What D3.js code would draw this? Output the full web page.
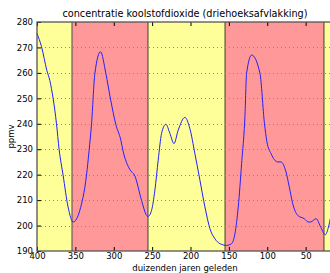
<!DOCTYPE html>
<html>
<head>
<meta charset="utf-8">
<script src="https://cdn.jsdelivr.net/npm/d3@7"></script>
<style>
body { margin: 0; background: #fff; overflow: hidden; }
text { font-family: "DejaVu Sans", sans-serif; fill: #000; }
</style>
</head>
<body>
<div id="chart"></div>
<script>
// duizenden jaren geleden (kyr) and CO2 (ppmv)
var kyr = [400, 394.1, 387.2, 383.3, 379.0, 374.6, 371.2, 366.0, 359.5, 352.9,
    344.2, 335.5, 332.1, 329.0, 324.6, 317.2, 310.3, 304.2, 297.3, 290.7,
    288.1, 279.0, 272.5, 263.8, 257.2, 255.2, 250.7, 246.4, 242.1, 237.7,
    232.1, 226.8, 221.6, 216.0, 207.3, 200.8, 194.3, 187.7, 181.2, 174.7,
    168.2, 161.7, 152.9, 146.4, 142.1, 137.8, 133.4, 129.1, 126.9, 120.3,
    109.5, 103.6, 100.5, 95.1, 86.4, 82.1, 75.6, 71.3, 66.8, 60.3,
    51.8, 46.5, 43.6, 36.3, 30.8, 24.3, 20.8, 17.0];
var ppmv = [275.5, 270.3, 261, 257, 250, 240, 230, 219.8, 207.3, 201.4,
    206, 219.8, 229.6, 239.7, 259.8, 268.3, 259.8, 249.7, 239.7, 233.5,
    229.6, 222, 219.5, 209.9, 204, 203.6, 206, 213.9, 225.7, 236.2,
    239.8, 236.2, 232.2, 237.5, 242.5, 238.1, 228.3, 217.8, 207.3, 198.8,
    194.8, 192.9, 192.2, 192.9, 196.8, 207.3, 224.4, 242.8, 259.8, 267,
    259.8, 240, 233, 228.3, 225, 225, 221.1, 215.2, 208.6, 204,
    202.7, 201.4, 201.4, 202.7, 199.7, 196.4, 198.8, 204];

// warm / cold periods
var bandFrom = [400, 354, 255, 155, 26];
var bandTo = [354, 255, 155, 26, 0];
var bandColor = ["#ffff99", "#ff9999", "#ffff99", "#ff9999", "#ffff99"];

var xTicks = [400, 350, 300, 250, 200, 150, 100, 50];
var yTicks = [190, 200, 210, 220, 230, 240, 250, 260, 270, 280];

var chartW = 330, chartH = 273;
var plotL = 37, plotR = 344, plotT = 22, plotB = 251;

var svg = d3.select("#chart").append("svg")
    .attr("width", chartW)
    .attr("height", chartH);

var x = d3.scaleLinear().domain([400, 0]).range([plotL, plotR]);
var y = d3.scaleLinear().domain([190, 280]).range([plotB, plotT]);

// background bands
svg.append("g").selectAll("rect")
    .data(bandFrom)
    .enter().append("rect")
    .attr("x", function (d) { return x(d); })
    .attr("y", plotT)
    .attr("width", function (d, i) { return x(bandTo[i]) - x(d); })
    .attr("height", plotB - plotT)
    .style("fill", function (d, i) { return bandColor[i]; });

// band edges
svg.append("g").selectAll("line")
    .data(bandFrom.slice(1))
    .enter().append("line")
    .attr("x1", function (d) { return Math.round(x(d)); })
    .attr("x2", function (d) { return Math.round(x(d)); })
    .attr("y1", plotT)
    .attr("y2", plotB)
    .style("stroke", "#000")
    .style("stroke-opacity", 0.6)
    .style("stroke-width", 1.2);

// horizontal grid
svg.append("g").selectAll("line")
    .data(yTicks.slice(1, -1))
    .enter().append("line")
    .attr("x1", plotL)
    .attr("x2", plotR)
    .attr("y1", function (d) { return Math.round(y(d)) + 0.5; })
    .attr("y2", function (d) { return Math.round(y(d)) + 0.5; })
    .style("stroke", "#888")
    .style("stroke-width", 1)
    .style("stroke-dasharray", "1,3");

// the curve
var line = d3.line()
    .x(function (d) { return x(d); })
    .y(function (d, i) { return y(ppmv[i]); })
    .curve(d3.curveMonotoneX);

svg.append("path")
    .datum(kyr)
    .attr("d", line)
    .style("fill", "none")
    .style("stroke", "#2020ff")
    .style("stroke-width", 1);

// axes, ticks pointing inward
svg.append("g")
    .attr("transform", "translate(0," + plotB + ")")
    .call(d3.axisBottom(x).tickValues(xTicks).tickSize(-4).tickFormat(d3.format("d")))
    .call(function (g) {
        g.select(".domain").remove();
        g.selectAll("text").style("font-size", "8.5px").attr("y", 2).attr("dy", "0.71em");
    });

svg.append("g")
    .attr("transform", "translate(0," + plotT + ")")
    .call(d3.axisTop(x).tickValues(xTicks).tickSize(-4).tickFormat(""))
    .call(function (g) { g.select(".domain").remove(); });

svg.append("g")
    .attr("transform", "translate(" + plotL + ",0)")
    .call(d3.axisLeft(y).tickValues(yTicks).tickSize(-4).tickPadding(4))
    .call(function (g) {
        g.select(".domain").remove();
        g.selectAll("text").style("font-size", "8.5px");
    });

// frame
svg.append("rect")
    .attr("x", plotL)
    .attr("y", plotT)
    .attr("width", plotR - plotL)
    .attr("height", plotB - plotT)
    .style("fill", "none")
    .style("stroke", "#555")
    .style("stroke-width", 1.3);

svg.append("text")
    .attr("x", 185)
    .attr("y", 17)
    .attr("text-anchor", "middle")
    .style("font-size", "9.7px")
    .text("concentratie koolstofdioxide (driehoeksafvlakking)");

svg.append("text")
    .attr("x", 185)
    .attr("y", 271)
    .attr("text-anchor", "middle")
    .style("font-size", "8.5px")
    .text("duizenden jaren geleden");

svg.append("text")
    .attr("transform", "translate(14," + ((plotT + plotB) / 2) + ") rotate(-90)")
    .attr("text-anchor", "middle")
    .style("font-size", "8.5px")
    .text("ppmv");
</script>
</body>
</html>
